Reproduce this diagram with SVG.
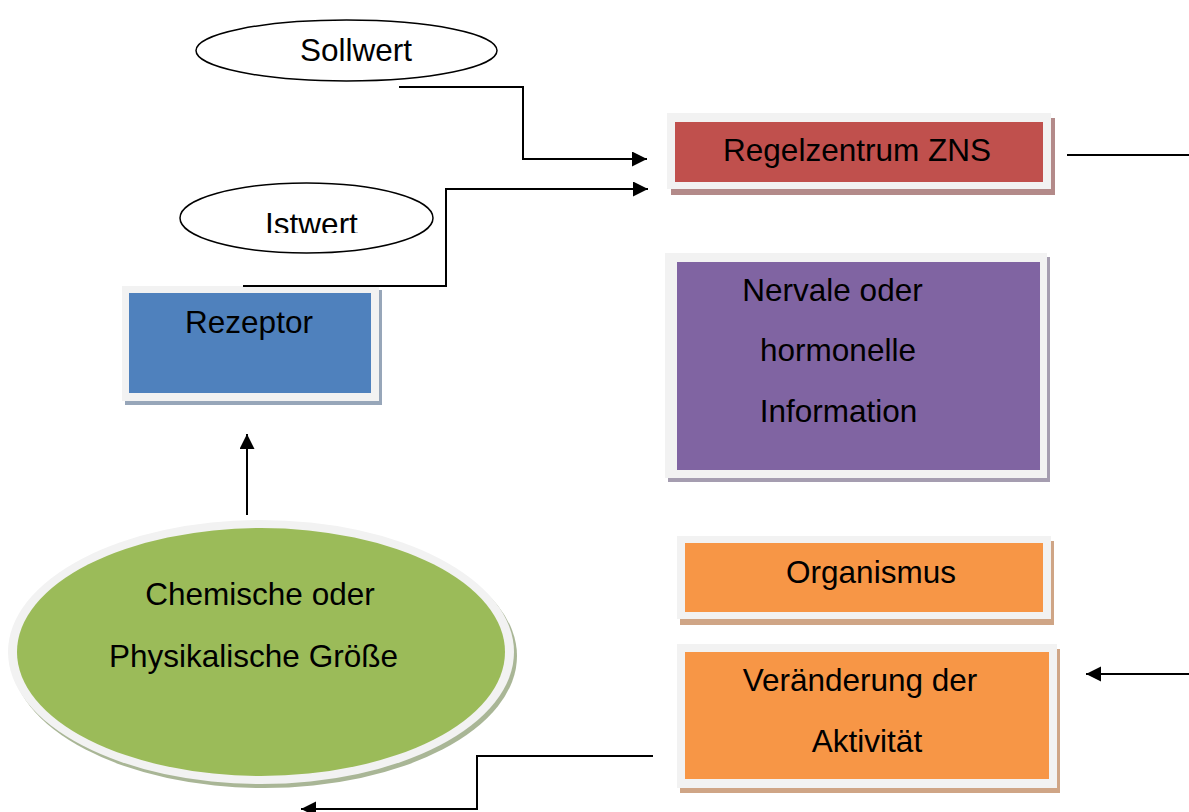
<svg xmlns="http://www.w3.org/2000/svg" width="1189" height="812" viewBox="0 0 1189 812">
<style>
text{font-family:"Liberation Sans",Arial,sans-serif;font-size:31.5px;fill:#000;text-anchor:middle}
.frame{fill:#F2F2F2}
.conn{fill:none;stroke:#000;stroke-width:2}
.oval{fill:#fff;stroke:#000;stroke-width:1.5}
</style>
<defs>
<marker id="ah" markerUnits="userSpaceOnUse" markerWidth="16" markerHeight="16" refX="15" refY="7.5" orient="auto">
<path d="M0,0 L15,7.5 L0,15 z" fill="#000"/>
</marker>
<clipPath id="istclip"><rect x="0" y="0" width="1189" height="233"/></clipPath>
</defs>
<rect width="1189" height="812" fill="#fff"/>

<g id="sollwert">
<ellipse class="oval" cx="346.5" cy="50.5" rx="150.5" ry="30.5"/>
<text x="356" y="61">Sollwert</text>
</g>

<g id="istwert">
<ellipse class="oval" cx="306.5" cy="218" rx="126.5" ry="35"/>
<text x="311.5" y="235" clip-path="url(#istclip)">Istwert</text>
</g>

<g id="regelzentrum">
<rect x="671" y="118" width="384" height="77" fill="#B38A89"/>
<rect class="frame" x="667" y="113" width="384" height="76"/>
<rect x="675" y="122" width="368" height="60" fill="#C0504D"/>
<text x="857" y="161">Regelzentrum ZNS</text>
</g>

<g id="rezeptor">
<rect x="125" y="290" width="257" height="115" fill="#97A6B9"/>
<rect class="frame" x="122" y="286" width="257" height="115"/>
<rect x="129" y="293" width="242" height="100" fill="#4F81BD"/>
<text x="249" y="333">Rezeptor</text>
</g>

<g id="information">
<rect x="668" y="257" width="382" height="225" fill="#A59DB0"/>
<rect class="frame" x="665" y="253" width="382" height="225"/>
<rect x="677" y="262" width="363" height="208" fill="#8064A2"/>
<text x="832.5" y="301">Nervale oder</text>
<text x="838" y="361">hormonelle</text>
<text x="838.5" y="422">Information</text>
</g>

<g id="groesse">
<ellipse cx="264" cy="656" rx="253" ry="132" fill="#A9B696"/>
<ellipse class="frame" cx="261" cy="652" rx="253" ry="132"/>
<ellipse cx="261" cy="652" rx="244" ry="124" fill="#9BBB59"/>
<text x="260" y="605">Chemische oder</text>
<text x="253.5" y="667">Physikalische Größe</text>
</g>

<g id="organismus">
<rect x="680" y="541" width="374" height="84" fill="#CFA586"/>
<rect class="frame" x="677" y="536" width="374" height="83"/>
<rect x="685" y="543" width="358" height="69" fill="#F79646"/>
<text x="871" y="583">Organismus</text>
</g>

<g id="veraenderung">
<rect x="680" y="649" width="380" height="144" fill="#CFA586"/>
<rect class="frame" x="677" y="644" width="380" height="144"/>
<rect x="685" y="652" width="364" height="127" fill="#F79646"/>
<text x="860" y="691">Veränderung der</text>
<text x="867" y="752">Aktivität</text>
</g>

<g id="connectors">
<path class="conn" d="M399,87 H523 V159 H647" marker-end="url(#ah)"/>
<path class="conn" d="M243,286 H446 V189 H648" marker-end="url(#ah)"/>
<path class="conn" d="M1067,155 H1189"/>
<path class="conn" d="M1189,674 H1086" marker-end="url(#ah)"/>
<path class="conn" d="M247,515 V434" marker-end="url(#ah)"/>
<path class="conn" d="M653,756 H477 V809 H301" marker-end="url(#ah)"/>
</g>
</svg>
